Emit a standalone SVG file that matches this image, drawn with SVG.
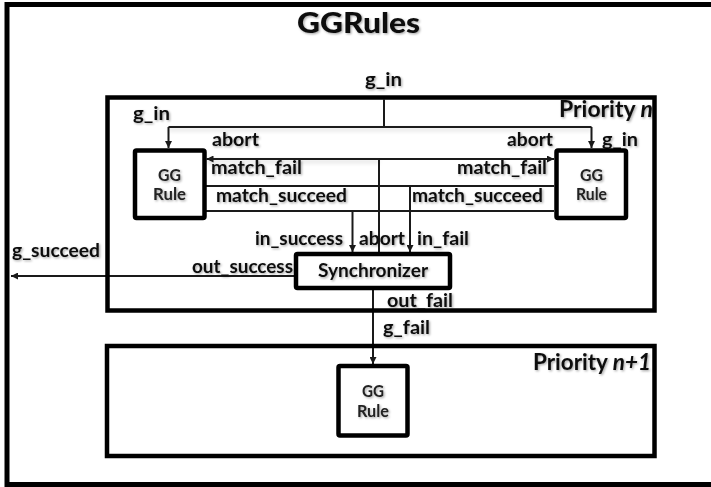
<svg xmlns="http://www.w3.org/2000/svg" width="711" height="487" viewBox="0 0 711 487">
  <style>
    .frame { fill: none; stroke: #000; stroke-width: 5; }
    .node { fill: #fff; stroke: #000; stroke-width: 4.5; }
    .wire { fill: none; stroke: #1a1a1a; stroke-width: 2; }
    .arrow { marker-end: url(#head); }
    .lbl { font-family: Lato, "Liberation Sans", sans-serif; font-weight: 700; font-size: 19px; fill: #111; filter: url(#txtShadow); }
    .big { font-size: 23px; }
    .title { font-size: 28px; font-weight: 900; }
    .nodeTxt { font-family: Lato, "Liberation Sans", sans-serif; font-weight: 700; font-size: 17.5px; fill: #222; text-anchor: middle; filter: url(#txtShadow); }
  </style>
  <defs>
    <marker id="head" viewBox="0 0 10 10" refX="10" refY="5" markerWidth="7" markerHeight="7" markerUnits="userSpaceOnUse" orient="auto">
      <path d="M0,0 L10,5 L0,10 z" fill="#1a1a1a"/>
    </marker>
    <filter id="txtShadow" x="-10%" y="-30%" width="130%" height="170%">
      <feDropShadow dx="1.2" dy="1.2" stdDeviation="0.9" flood-color="#000" flood-opacity="0.35"/>
    </filter>
    <filter id="lineShadow" filterUnits="userSpaceOnUse" x="0" y="0" width="711" height="487">
      <feDropShadow dx="0" dy="2.5" stdDeviation="2" flood-color="#000" flood-opacity="0.18"/>
    </filter>
  </defs>

  <rect width="711" height="487" fill="#fff"/>

  <!-- outer container (right edge runs past the canvas) -->
  <g id="ggrules">
    <rect class="frame" x="7" y="4.5" width="730" height="480"/>
    <text class="lbl title" x="297" y="33" textLength="123" lengthAdjust="spacingAndGlyphs">GGRules</text>
  </g>

  <!-- connectors -->
  <g id="connectors">
    <!-- g_in distribution -->
    <path class="wire" d="M384 99.5 V127"/>
    <path class="wire" d="M168.5 127 H591.5" filter="url(#lineShadow)"/>
    <path class="wire arrow" d="M168.5 127 V148"/>
    <path class="wire arrow" d="M591.5 127 V148"/>
    <!-- abort from synchronizer to both rules -->
    <path class="wire" d="M379 252 V159"/>
    <path class="wire arrow" d="M379 159 H206.5" filter="url(#lineShadow)"/>
    <path class="wire arrow" d="M379 159 H554"/>
    <!-- match_fail / match_succeed buses -->
    <path class="wire" d="M206 186 H554"/>
    <path class="wire" d="M206 211 H554"/>
    <!-- synchronizer inputs -->
    <path class="wire arrow" d="M352.5 211 V252"/>
    <path class="wire arrow" d="M410 186 V252"/>
    <!-- synchronizer outputs -->
    <path class="wire arrow" d="M294 276 H11"/>
    <path class="wire arrow" d="M373 290 V364"/>
  </g>

  <!-- connector labels -->
  <g id="labels">
    <text class="lbl" x="365" y="86" textLength="37" lengthAdjust="spacingAndGlyphs">g_in</text>
    <text class="lbl" x="133" y="120" textLength="37" lengthAdjust="spacingAndGlyphs">g_in</text>
    <text class="lbl" x="212" y="146" textLength="47" lengthAdjust="spacingAndGlyphs">abort</text>
    <text class="lbl" x="211" y="174" textLength="91" lengthAdjust="spacingAndGlyphs">match_fail</text>
    <text class="lbl" x="216" y="202" textLength="131" lengthAdjust="spacingAndGlyphs">match_succeed</text>
    <text class="lbl" x="507" y="146" textLength="46" lengthAdjust="spacingAndGlyphs">abort</text>
    <text class="lbl" x="602" y="146" textLength="36" lengthAdjust="spacingAndGlyphs">g_in</text>
    <text class="lbl" x="457" y="174" textLength="90" lengthAdjust="spacingAndGlyphs">match_fail</text>
    <text class="lbl" x="412" y="202" textLength="131" lengthAdjust="spacingAndGlyphs">match_succeed</text>
    <text class="lbl" x="255" y="245" textLength="88" lengthAdjust="spacingAndGlyphs">in_success</text>
    <text class="lbl" x="359" y="245" textLength="46" lengthAdjust="spacingAndGlyphs">abort</text>
    <text class="lbl" x="417" y="245" textLength="52" lengthAdjust="spacingAndGlyphs">in_fail</text>
    <text class="lbl" x="12" y="257" textLength="88" lengthAdjust="spacingAndGlyphs">g_succeed</text>
    <text class="lbl" x="192" y="273" textLength="101" lengthAdjust="spacingAndGlyphs">out_success</text>
    <text class="lbl" x="387" y="307" textLength="66" lengthAdjust="spacingAndGlyphs">out_fail</text>
    <text class="lbl" x="383" y="334" textLength="47" lengthAdjust="spacingAndGlyphs">g_fail</text>
  </g>

  <!-- priority levels -->
  <g id="priority-n">
    <text class="lbl big" x="559" y="117" textLength="94" lengthAdjust="spacingAndGlyphs">Priority <tspan font-style="italic">n</tspan></text>
    <rect class="frame" x="107.5" y="97.5" width="547" height="213" style="stroke-width:4.5"/>
  </g>
  <g id="priority-n1">
    <text class="lbl big" x="533" y="370" textLength="118" lengthAdjust="spacingAndGlyphs">Priority <tspan font-style="italic">n+1</tspan></text>
    <rect class="frame" x="107" y="346" width="547.5" height="110" style="stroke-width:4.5"/>
  </g>

  <!-- rule nodes -->
  <g id="rule-left">
    <rect class="node" x="135" y="150.5" width="69.5" height="67.5" rx="1.5"/>
    <text class="nodeTxt" x="169.5" y="181" textLength="23" lengthAdjust="spacingAndGlyphs">GG</text>
    <text class="nodeTxt" x="169.5" y="200" textLength="33" lengthAdjust="spacingAndGlyphs">Rule</text>
  </g>
  <g id="rule-right">
    <rect class="node" x="556.5" y="150.5" width="69.5" height="67.5" rx="1.5"/>
    <text class="nodeTxt" x="591.5" y="181" textLength="23" lengthAdjust="spacingAndGlyphs">GG</text>
    <text class="nodeTxt" x="591.5" y="200" textLength="31" lengthAdjust="spacingAndGlyphs">Rule</text>
  </g>
  <g id="rule-next">
    <rect class="node" x="338.5" y="366" width="69" height="69.5" rx="1.5"/>
    <text class="nodeTxt" x="373" y="397" textLength="22" lengthAdjust="spacingAndGlyphs">GG</text>
    <text class="nodeTxt" x="373" y="417" textLength="32" lengthAdjust="spacingAndGlyphs">Rule</text>
  </g>

  <!-- synchronizer node -->
  <g id="synchronizer">
    <rect class="node" x="296" y="254" width="154" height="34" rx="1.5"/>
    <text class="lbl" x="318" y="277" textLength="110" lengthAdjust="spacingAndGlyphs">Synchronizer</text>
  </g>
</svg>
